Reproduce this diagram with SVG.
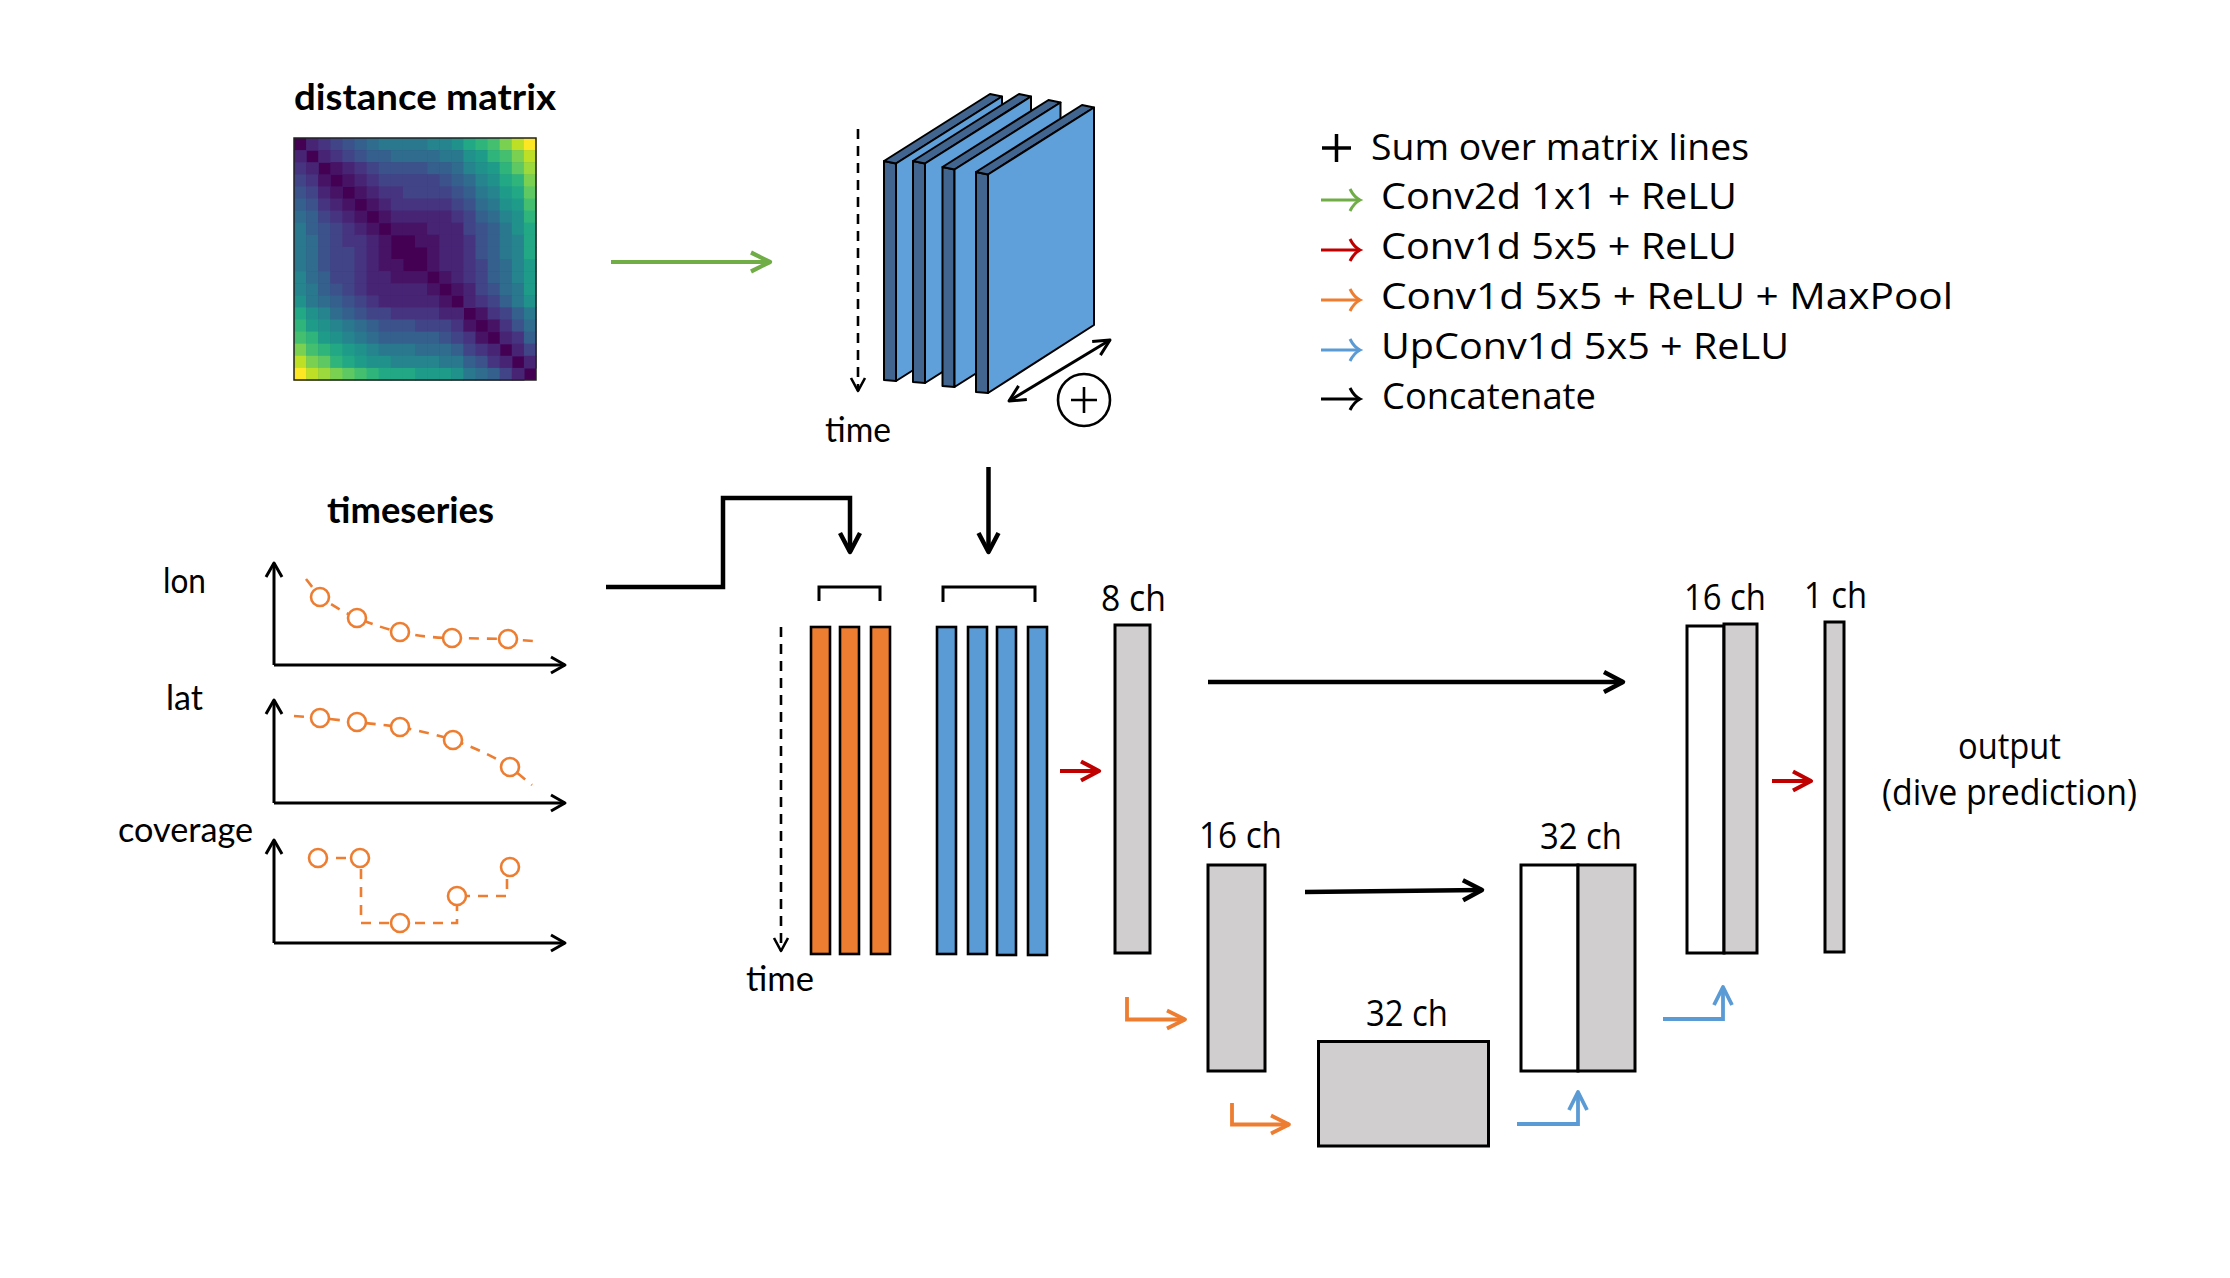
<svg xmlns="http://www.w3.org/2000/svg" xmlns:xlink="http://www.w3.org/1999/xlink" width="2230" height="1278" viewBox="0 0 2230 1278">
<style>
.t{font-family:"Open Sans","DejaVu Sans",sans-serif;font-size:36.5px;fill:#000}
.s{font-family:"Open Sans","DejaVu Sans",sans-serif;font-size:37px;fill:#000}
.l{font-family:Lato,"Liberation Sans",sans-serif;font-size:34px;fill:#000}
.b{font-family:Lato,"Liberation Sans",sans-serif;font-weight:bold;font-size:36px;fill:#000}
.g{fill:#d0cece;stroke:#000;stroke-width:3}
.w{fill:#fff;stroke:#000;stroke-width:3}
.ob{fill:#ed7d31;stroke:#000;stroke-width:2.6}
.bb{fill:#5b9bd5;stroke:#000;stroke-width:2.6}
.dk{fill:#41658e;stroke:#000;stroke-width:2;stroke-linejoin:round}
.lt{fill:#5fa0da;stroke:#000;stroke-width:2;stroke-linejoin:round}
.ln{fill:none;stroke-linecap:butt;stroke-linejoin:miter}
.k{stroke:#000}
.ax{fill:none;stroke:#000;stroke-width:3}
.ds{fill:none;stroke:#ed7d31;stroke-width:2.6;stroke-dasharray:10 8}
.pt{fill:#fff;stroke:#ed7d31;stroke-width:2.6}
.v1{fill:#471365}.v2{fill:#482475}.v3{fill:#463480}.v4{fill:#414487}.v5{fill:#3b528b}
.v6{fill:#355f8d}.v7{fill:#2f6c8e}.v8{fill:#2a788e}.v9{fill:#25848e}.v10{fill:#21918c}
.v11{fill:#1e9c89}.v12{fill:#22a884}.v13{fill:#2fb47c}.v14{fill:#44bf70}.v15{fill:#5ec962}
.v16{fill:#7ad151}.v17{fill:#9bd93c}.v18{fill:#bddf26}.v19{fill:#dfe318}.v20{fill:#fde725}
</style>
<defs>
<marker id="mBk" markerUnits="userSpaceOnUse" markerWidth="24" markerHeight="24" refX="19" refY="10" orient="auto" overflow="visible"><path d="M0,0 L19,10 L0,20" fill="none" stroke="#000" stroke-width="4.5" stroke-linejoin="round"/></marker>
<marker id="mGr" markerUnits="userSpaceOnUse" markerWidth="24" markerHeight="24" refX="19" refY="10" orient="auto" overflow="visible"><path d="M0,0.5 L19,10 L0,19.5" fill="none" stroke="#70ad47" stroke-width="4.2" stroke-linejoin="round"/></marker>
<marker id="mRd" markerUnits="userSpaceOnUse" markerWidth="24" markerHeight="24" refX="18" refY="10" orient="auto" overflow="visible"><path d="M0,0.5 L18,10 L0,19.5" fill="none" stroke="#c00000" stroke-width="4.2" stroke-linejoin="round"/></marker>
<marker id="mOr" markerUnits="userSpaceOnUse" markerWidth="24" markerHeight="24" refX="18" refY="10" orient="auto" overflow="visible"><path d="M0,1 L18,10 L0,19" fill="none" stroke="#ed7d31" stroke-width="3.8" stroke-linejoin="round"/></marker>
<marker id="mBl" markerUnits="userSpaceOnUse" markerWidth="24" markerHeight="24" refX="18" refY="10" orient="auto" overflow="visible"><path d="M0,1 L18,10 L0,19" fill="none" stroke="#5b9bd5" stroke-width="3.8" stroke-linejoin="round"/></marker>
<marker id="mAx" markerUnits="userSpaceOnUse" markerWidth="20" markerHeight="20" refX="14" refY="10" orient="auto" overflow="visible"><path d="M0,2 L14,10 L0,18" fill="none" stroke="#000" stroke-width="3" stroke-linejoin="round"/></marker>
<marker id="mDs" markerUnits="userSpaceOnUse" markerWidth="20" markerHeight="20" refX="13" refY="8" orient="auto" overflow="visible"><path d="M0,1 L13,8 L0,15" fill="none" stroke="#000" stroke-width="2.6" stroke-linejoin="round"/></marker>
<marker id="mDa" markerUnits="userSpaceOnUse" markerWidth="20" markerHeight="20" refX="16" refY="9" orient="auto-start-reverse" overflow="visible"><path d="M0,1 L16,9 L0,17" fill="none" stroke="#000" stroke-width="3" stroke-linejoin="round"/></marker>
<marker id="mLk" markerUnits="userSpaceOnUse" markerWidth="20" markerHeight="26" refX="10" refY="11" orient="auto" overflow="visible"><path d="M0,0 Q4,8 10,11 Q4,14 0,22" fill="none" stroke="#000" stroke-width="3"/></marker>
<marker id="mLg" markerUnits="userSpaceOnUse" markerWidth="20" markerHeight="26" refX="10" refY="11" orient="auto" overflow="visible"><path d="M0,0 Q4,8 10,11 Q4,14 0,22" fill="none" stroke="#70ad47" stroke-width="3"/></marker>
<marker id="mLr" markerUnits="userSpaceOnUse" markerWidth="20" markerHeight="26" refX="10" refY="11" orient="auto" overflow="visible"><path d="M0,0 Q4,8 10,11 Q4,14 0,22" fill="none" stroke="#c00000" stroke-width="3"/></marker>
<marker id="mLo" markerUnits="userSpaceOnUse" markerWidth="20" markerHeight="26" refX="10" refY="11" orient="auto" overflow="visible"><path d="M0,0 Q4,8 10,11 Q4,14 0,22" fill="none" stroke="#ed7d31" stroke-width="3"/></marker>
<marker id="mLb" markerUnits="userSpaceOnUse" markerWidth="20" markerHeight="26" refX="10" refY="11" orient="auto" overflow="visible"><path d="M0,0 Q4,8 10,11 Q4,14 0,22" fill="none" stroke="#5b9bd5" stroke-width="3"/></marker>
</defs>
<rect width="2230" height="1278" fill="#fff"/>

<g id="distance-matrix">
<text class="b" x="294" y="110" textLength="262" lengthAdjust="spacingAndGlyphs">distance matrix</text>
<g transform="translate(294,138) scale(12.1)">
<rect width="20" height="20" fill="#440154"/>
<g id="mxU">
<rect x="1" y="0" width="1.05" height="1.05" class="v2"/><rect x="2" y="0" width="1.05" height="1.05" class="v3"/><rect x="3" y="0" width="1.05" height="1.05" class="v4"/><rect x="4" y="0" width="1.05" height="1.05" class="v5"/><rect x="5" y="0" width="1.05" height="1.05" class="v6"/><rect x="6" y="0" width="1.05" height="1.05" class="v7"/><rect x="7" y="0" width="1.05" height="1.05" class="v8"/><rect x="8" y="0" width="1.05" height="1.05" class="v8"/><rect x="9" y="0" width="1.05" height="1.05" class="v8"/><rect x="10" y="0" width="1.05" height="1.05" class="v8"/><rect x="11" y="0" width="1.05" height="1.05" class="v9"/><rect x="12" y="0" width="1.05" height="1.05" class="v9"/><rect x="13" y="0" width="1.05" height="1.05" class="v10"/><rect x="14" y="0" width="1.05" height="1.05" class="v12"/><rect x="15" y="0" width="1.05" height="1.05" class="v13"/><rect x="16" y="0" width="1.05" height="1.05" class="v14"/><rect x="17" y="0" width="1.05" height="1.05" class="v16"/><rect x="18" y="0" width="1.05" height="1.05" class="v18"/><rect x="19" y="0" width="1.05" height="1.05" class="v20"/>
<rect x="2" y="1" width="1.05" height="1.05" class="v2"/><rect x="3" y="1" width="1.05" height="1.05" class="v3"/><rect x="4" y="1" width="1.05" height="1.05" class="v4"/><rect x="5" y="1" width="1.05" height="1.05" class="v5"/><rect x="6" y="1" width="1.05" height="1.05" class="v6"/><rect x="7" y="1" width="1.05" height="1.05" class="v6"/><rect x="8" y="1" width="1.05" height="1.05" class="v7"/><rect x="9" y="1" width="1.05" height="1.05" class="v7"/><rect x="10" y="1" width="1.05" height="1.05" class="v7"/><rect x="11" y="1" width="1.05" height="1.05" class="v7"/><rect x="12" y="1" width="1.05" height="1.05" class="v8"/><rect x="13" y="1" width="1.05" height="1.05" class="v8"/><rect x="14" y="1" width="1.05" height="1.05" class="v10"/><rect x="15" y="1" width="1.05" height="1.05" class="v11"/><rect x="16" y="1" width="1.05" height="1.05" class="v13"/><rect x="17" y="1" width="1.05" height="1.05" class="v14"/><rect x="18" y="1" width="1.05" height="1.05" class="v16"/><rect x="19" y="1" width="1.05" height="1.05" class="v18"/>
<rect x="3" y="2" width="1.05" height="1.05" class="v1"/><rect x="4" y="2" width="1.05" height="1.05" class="v2"/><rect x="5" y="2" width="1.05" height="1.05" class="v3"/><rect x="6" y="2" width="1.05" height="1.05" class="v4"/><rect x="7" y="2" width="1.05" height="1.05" class="v5"/><rect x="8" y="2" width="1.05" height="1.05" class="v5"/><rect x="9" y="2" width="1.05" height="1.05" class="v5"/><rect x="10" y="2" width="1.05" height="1.05" class="v5"/><rect x="11" y="2" width="1.05" height="1.05" class="v6"/><rect x="12" y="2" width="1.05" height="1.05" class="v6"/><rect x="13" y="2" width="1.05" height="1.05" class="v7"/><rect x="14" y="2" width="1.05" height="1.05" class="v9"/><rect x="15" y="2" width="1.05" height="1.05" class="v10"/><rect x="16" y="2" width="1.05" height="1.05" class="v11"/><rect x="17" y="2" width="1.05" height="1.05" class="v13"/><rect x="18" y="2" width="1.05" height="1.05" class="v15"/><rect x="19" y="2" width="1.05" height="1.05" class="v17"/>
<rect x="4" y="3" width="1.05" height="1.05" class="v1"/><rect x="5" y="3" width="1.05" height="1.05" class="v2"/><rect x="6" y="3" width="1.05" height="1.05" class="v3"/><rect x="7" y="3" width="1.05" height="1.05" class="v4"/><rect x="8" y="3" width="1.05" height="1.05" class="v4"/><rect x="9" y="3" width="1.05" height="1.05" class="v4"/><rect x="10" y="3" width="1.05" height="1.05" class="v4"/><rect x="11" y="3" width="1.05" height="1.05" class="v4"/><rect x="12" y="3" width="1.05" height="1.05" class="v5"/><rect x="13" y="3" width="1.05" height="1.05" class="v6"/><rect x="14" y="3" width="1.05" height="1.05" class="v7"/><rect x="15" y="3" width="1.05" height="1.05" class="v9"/><rect x="16" y="3" width="1.05" height="1.05" class="v10"/><rect x="17" y="3" width="1.05" height="1.05" class="v12"/><rect x="18" y="3" width="1.05" height="1.05" class="v13"/><rect x="19" y="3" width="1.05" height="1.05" class="v16"/>
<rect x="5" y="4" width="1.05" height="1.05" class="v1"/><rect x="6" y="4" width="1.05" height="1.05" class="v2"/><rect x="7" y="4" width="1.05" height="1.05" class="v3"/><rect x="8" y="4" width="1.05" height="1.05" class="v3"/><rect x="9" y="4" width="1.05" height="1.05" class="v4"/><rect x="10" y="4" width="1.05" height="1.05" class="v4"/><rect x="11" y="4" width="1.05" height="1.05" class="v4"/><rect x="12" y="4" width="1.05" height="1.05" class="v4"/><rect x="13" y="4" width="1.05" height="1.05" class="v5"/><rect x="14" y="4" width="1.05" height="1.05" class="v6"/><rect x="15" y="4" width="1.05" height="1.05" class="v8"/><rect x="16" y="4" width="1.05" height="1.05" class="v9"/><rect x="17" y="4" width="1.05" height="1.05" class="v11"/><rect x="18" y="4" width="1.05" height="1.05" class="v12"/><rect x="19" y="4" width="1.05" height="1.05" class="v15"/>
<rect x="6" y="5" width="1.05" height="1.05" class="v1"/><rect x="7" y="5" width="1.05" height="1.05" class="v2"/><rect x="8" y="5" width="1.05" height="1.05" class="v3"/><rect x="9" y="5" width="1.05" height="1.05" class="v3"/><rect x="10" y="5" width="1.05" height="1.05" class="v3"/><rect x="11" y="5" width="1.05" height="1.05" class="v3"/><rect x="12" y="5" width="1.05" height="1.05" class="v3"/><rect x="13" y="5" width="1.05" height="1.05" class="v4"/><rect x="14" y="5" width="1.05" height="1.05" class="v5"/><rect x="15" y="5" width="1.05" height="1.05" class="v7"/><rect x="16" y="5" width="1.05" height="1.05" class="v8"/><rect x="17" y="5" width="1.05" height="1.05" class="v10"/><rect x="18" y="5" width="1.05" height="1.05" class="v11"/><rect x="19" y="5" width="1.05" height="1.05" class="v14"/>
<rect x="7" y="6" width="1.05" height="1.05" class="v1"/><rect x="8" y="6" width="1.05" height="1.05" class="v2"/><rect x="9" y="6" width="1.05" height="1.05" class="v2"/><rect x="10" y="6" width="1.05" height="1.05" class="v2"/><rect x="11" y="6" width="1.05" height="1.05" class="v2"/><rect x="12" y="6" width="1.05" height="1.05" class="v2"/><rect x="13" y="6" width="1.05" height="1.05" class="v3"/><rect x="14" y="6" width="1.05" height="1.05" class="v4"/><rect x="15" y="6" width="1.05" height="1.05" class="v6"/><rect x="16" y="6" width="1.05" height="1.05" class="v7"/><rect x="17" y="6" width="1.05" height="1.05" class="v9"/><rect x="18" y="6" width="1.05" height="1.05" class="v10"/><rect x="19" y="6" width="1.05" height="1.05" class="v13"/>
<rect x="8" y="7" width="1.05" height="1.05" class="v1"/><rect x="9" y="7" width="1.05" height="1.05" class="v1"/><rect x="10" y="7" width="1.05" height="1.05" class="v1"/><rect x="11" y="7" width="1.05" height="1.05" class="v2"/><rect x="12" y="7" width="1.05" height="1.05" class="v2"/><rect x="13" y="7" width="1.05" height="1.05" class="v2"/><rect x="14" y="7" width="1.05" height="1.05" class="v4"/><rect x="15" y="7" width="1.05" height="1.05" class="v5"/><rect x="16" y="7" width="1.05" height="1.05" class="v6"/><rect x="17" y="7" width="1.05" height="1.05" class="v8"/><rect x="18" y="7" width="1.05" height="1.05" class="v10"/><rect x="19" y="7" width="1.05" height="1.05" class="v12"/>
<rect x="10" y="8" width="1.05" height="1.05" class="v1"/><rect x="11" y="8" width="1.05" height="1.05" class="v1"/><rect x="12" y="8" width="1.05" height="1.05" class="v2"/><rect x="13" y="8" width="1.05" height="1.05" class="v2"/><rect x="14" y="8" width="1.05" height="1.05" class="v3"/><rect x="15" y="8" width="1.05" height="1.05" class="v5"/><rect x="16" y="8" width="1.05" height="1.05" class="v6"/><rect x="17" y="8" width="1.05" height="1.05" class="v8"/><rect x="18" y="8" width="1.05" height="1.05" class="v9"/><rect x="19" y="8" width="1.05" height="1.05" class="v12"/>
<rect x="11" y="9" width="1.05" height="1.05" class="v1"/><rect x="12" y="9" width="1.05" height="1.05" class="v2"/><rect x="13" y="9" width="1.05" height="1.05" class="v2"/><rect x="14" y="9" width="1.05" height="1.05" class="v3"/><rect x="15" y="9" width="1.05" height="1.05" class="v5"/><rect x="16" y="9" width="1.05" height="1.05" class="v6"/><rect x="17" y="9" width="1.05" height="1.05" class="v8"/><rect x="18" y="9" width="1.05" height="1.05" class="v9"/><rect x="19" y="9" width="1.05" height="1.05" class="v12"/>
<rect x="11" y="10" width="1.05" height="1.05" class="v1"/><rect x="12" y="10" width="1.05" height="1.05" class="v2"/><rect x="13" y="10" width="1.05" height="1.05" class="v2"/><rect x="14" y="10" width="1.05" height="1.05" class="v3"/><rect x="15" y="10" width="1.05" height="1.05" class="v4"/><rect x="16" y="10" width="1.05" height="1.05" class="v6"/><rect x="17" y="10" width="1.05" height="1.05" class="v7"/><rect x="18" y="10" width="1.05" height="1.05" class="v9"/><rect x="19" y="10" width="1.05" height="1.05" class="v11"/>
<rect x="12" y="11" width="1.05" height="1.05" class="v1"/><rect x="13" y="11" width="1.05" height="1.05" class="v2"/><rect x="14" y="11" width="1.05" height="1.05" class="v3"/><rect x="15" y="11" width="1.05" height="1.05" class="v4"/><rect x="16" y="11" width="1.05" height="1.05" class="v6"/><rect x="17" y="11" width="1.05" height="1.05" class="v7"/><rect x="18" y="11" width="1.05" height="1.05" class="v9"/><rect x="19" y="11" width="1.05" height="1.05" class="v11"/>
<rect x="13" y="12" width="1.05" height="1.05" class="v1"/><rect x="14" y="12" width="1.05" height="1.05" class="v2"/><rect x="15" y="12" width="1.05" height="1.05" class="v4"/><rect x="16" y="12" width="1.05" height="1.05" class="v5"/><rect x="17" y="12" width="1.05" height="1.05" class="v7"/><rect x="18" y="12" width="1.05" height="1.05" class="v8"/><rect x="19" y="12" width="1.05" height="1.05" class="v11"/>
<rect x="14" y="13" width="1.05" height="1.05" class="v2"/><rect x="15" y="13" width="1.05" height="1.05" class="v3"/><rect x="16" y="13" width="1.05" height="1.05" class="v4"/><rect x="17" y="13" width="1.05" height="1.05" class="v6"/><rect x="18" y="13" width="1.05" height="1.05" class="v8"/><rect x="19" y="13" width="1.05" height="1.05" class="v10"/>
<rect x="15" y="14" width="1.05" height="1.05" class="v1"/><rect x="16" y="14" width="1.05" height="1.05" class="v3"/><rect x="17" y="14" width="1.05" height="1.05" class="v4"/><rect x="18" y="14" width="1.05" height="1.05" class="v6"/><rect x="19" y="14" width="1.05" height="1.05" class="v8"/>
<rect x="16" y="15" width="1.05" height="1.05" class="v1"/><rect x="17" y="15" width="1.05" height="1.05" class="v3"/><rect x="18" y="15" width="1.05" height="1.05" class="v5"/><rect x="19" y="15" width="1.05" height="1.05" class="v7"/>
<rect x="17" y="16" width="1.05" height="1.05" class="v2"/><rect x="18" y="16" width="1.05" height="1.05" class="v3"/><rect x="19" y="16" width="1.05" height="1.05" class="v6"/>
<rect x="18" y="17" width="1.05" height="1.05" class="v2"/><rect x="19" y="17" width="1.05" height="1.05" class="v4"/>
<rect x="19" y="18" width="1.05" height="1.05" class="v2"/>
</g>
<use href="#mxU" xlink:href="#mxU" transform="matrix(0 1 1 0 0 0)"/>
</g>
<rect x="294" y="138" width="242" height="242" fill="none" stroke="#222" stroke-width="1.5"/>
</g>

<g id="feature-maps">
<polygon class="dk" points="884,161 896,163.5 896,381 884,380"/>
<polygon class="dk" points="884,161 990,94 1002,96.5 896,163.5"/>
<polygon class="lt" points="896,163.5 1002,96.5 1002,314 896,381"/>
<polygon class="dk" points="913,161 925,163.5 925,383 913,382"/>
<polygon class="dk" points="913,161 1019,94 1031,96.5 925,163.5"/>
<polygon class="lt" points="925,163.5 1031,96.5 1031,316 925,383"/>
<polygon class="dk" points="942.5,167 954.5,169.5 954.5,387 942.5,386"/>
<polygon class="dk" points="942.5,167 1048.5,100 1060.5,102.5 954.5,169.5"/>
<polygon class="lt" points="954.5,169.5 1060.5,102.5 1060.5,320 954.5,387"/>
<polygon class="dk" points="976,172 988,174.5 988,393 976,392"/>
<polygon class="dk" points="976,172 1082,105 1094,107.5 988,174.5"/>
<polygon class="lt" points="988,174.5 1094,107.5 1094,325 988,393"/>
<line x1="858" y1="129" x2="858" y2="391" stroke="#000" stroke-width="2.6" stroke-dasharray="10 7" marker-end="url(#mDs)"/>
<text class="l" x="825" y="442" textLength="66" lengthAdjust="spacingAndGlyphs">time</text>
<line x1="1009" y1="401" x2="1110" y2="340" stroke="#000" stroke-width="3" marker-start="url(#mDa)" marker-end="url(#mDa)"/>
<circle cx="1084" cy="400" r="26" fill="#fff" stroke="#000" stroke-width="2.6"/>
<path d="M1071,400 H1097 M1084,387 V413" stroke="#000" stroke-width="2.6" fill="none"/>
</g>

<g id="legend">
<path d="M1322,148 H1351 M1336.5,134 V162" stroke="#000" stroke-width="3.5" fill="none"/>
<text class="t" x="1371" y="160" textLength="378" lengthAdjust="spacingAndGlyphs">Sum over matrix lines</text>
<line x1="1321" y1="200" x2="1360" y2="200" stroke="#70ad47" stroke-width="3" marker-end="url(#mLg)"/>
<text class="t" x="1381" y="209" textLength="356" lengthAdjust="spacingAndGlyphs">Conv2d 1x1 + ReLU</text>
<line x1="1321" y1="250" x2="1360" y2="250" stroke="#c00000" stroke-width="3" marker-end="url(#mLr)"/>
<text class="t" x="1381" y="259" textLength="356" lengthAdjust="spacingAndGlyphs">Conv1d 5x5 + ReLU</text>
<line x1="1321" y1="300" x2="1360" y2="300" stroke="#ed7d31" stroke-width="3" marker-end="url(#mLo)"/>
<text class="t" x="1381" y="309" textLength="572" lengthAdjust="spacingAndGlyphs">Conv1d 5x5 + ReLU + MaxPool</text>
<line x1="1321" y1="350" x2="1360" y2="350" stroke="#5b9bd5" stroke-width="3" marker-end="url(#mLb)"/>
<text class="t" x="1381" y="359" textLength="408" lengthAdjust="spacingAndGlyphs">UpConv1d 5x5 + ReLU</text>
<line x1="1321" y1="399" x2="1360" y2="399" stroke="#000" stroke-width="3" marker-end="url(#mLk)"/>
<text class="t" x="1382" y="409" textLength="214" lengthAdjust="spacingAndGlyphs">Concatenate</text>
</g>

<g id="timeseries">
<text class="b" x="327" y="523" textLength="167" lengthAdjust="spacingAndGlyphs">timeseries</text>
<text class="l" x="163" y="593" textLength="43" lengthAdjust="spacingAndGlyphs">lon</text>
<text class="l" x="166" y="710" textLength="37" lengthAdjust="spacingAndGlyphs">lat</text>
<text class="l" x="118" y="842" textLength="135" lengthAdjust="spacingAndGlyphs">coverage</text>
<path class="ax" d="M274,665 V563" marker-end="url(#mAx)"/>
<path class="ax" d="M274,665 H565" marker-end="url(#mAx)"/>
<path class="ax" d="M274,803 V700" marker-end="url(#mAx)"/>
<path class="ax" d="M274,803 H565" marker-end="url(#mAx)"/>
<path class="ax" d="M274,943 V840" marker-end="url(#mAx)"/>
<path class="ax" d="M274,943 H565" marker-end="url(#mAx)"/>
<path class="ds" d="M306,579 L320,597 C335,607 345,613 357,618 C372,624 385,629 400,632 C418,636 435,638 452,638 L508,639 L533,641"/>
<path class="ds" d="M294,716 L320,718 L357,722 C372,724 386,725 400,727 C420,731 437,735 453,740 C475,748 493,756 510,767 L532,785"/>
<path class="ds" d="M318,858 H361 V923 H457 V896 H507 V868"/>
<circle class="pt" cx="320" cy="597" r="9"/><circle class="pt" cx="357" cy="618" r="9"/><circle class="pt" cx="400" cy="632" r="9"/><circle class="pt" cx="452" cy="638" r="9"/><circle class="pt" cx="508" cy="639" r="9"/>
<circle class="pt" cx="320" cy="718" r="9"/><circle class="pt" cx="357" cy="722" r="9"/><circle class="pt" cx="400" cy="727" r="9"/><circle class="pt" cx="453" cy="740" r="9"/><circle class="pt" cx="510" cy="767" r="9"/>
<circle class="pt" cx="318" cy="858" r="9"/><circle class="pt" cx="360" cy="858" r="9"/><circle class="pt" cx="400" cy="923" r="9"/><circle class="pt" cx="457" cy="896" r="9"/><circle class="pt" cx="510" cy="867" r="9"/>
</g>

<g id="ts-channels">
<path d="M819,601 V587 H880 V601" fill="none" stroke="#000" stroke-width="3"/>
<rect class="ob" x="811" y="627" width="19" height="327"/>
<rect class="ob" x="840" y="627" width="19" height="327"/>
<rect class="ob" x="871" y="627" width="19" height="327"/>
<line x1="781" y1="627" x2="781" y2="951" stroke="#000" stroke-width="2.6" stroke-dasharray="10 7" marker-end="url(#mDs)"/>
<text class="l" x="746" y="991" textLength="68" lengthAdjust="spacingAndGlyphs">time</text>
</g>

<g id="dm-channels">
<path d="M943,602 V587 H1035 V602" fill="none" stroke="#000" stroke-width="3"/>
<rect class="bb" x="937" y="627" width="19" height="327"/>
<rect class="bb" x="968" y="627" width="19" height="327"/>
<rect class="bb" x="997" y="627" width="19" height="328"/>
<rect class="bb" x="1028" y="627" width="19" height="328"/>
</g>

<g id="enc8">
<text class="s" x="1101" y="611" textLength="65" lengthAdjust="spacingAndGlyphs">8 ch</text>
<rect class="g" x="1115" y="625" width="35" height="328"/>
</g>
<g id="enc16">
<text class="s" x="1199" y="848" textLength="83" lengthAdjust="spacingAndGlyphs">16 ch</text>
<rect class="g" x="1208" y="865" width="57" height="206"/>
</g>
<g id="bottleneck32">
<text class="s" x="1366" y="1026" textLength="82" lengthAdjust="spacingAndGlyphs">32 ch</text>
<rect class="g" x="1318.5" y="1041.5" width="170" height="104.5"/>
</g>
<g id="dec32">
<text class="s" x="1540" y="849" textLength="82" lengthAdjust="spacingAndGlyphs">32 ch</text>
<rect class="w" x="1521" y="865" width="57" height="206"/>
<rect class="g" x="1578" y="865" width="57" height="206"/>
</g>
<g id="dec16">
<text class="s" x="1684" y="610" textLength="82" lengthAdjust="spacingAndGlyphs">16 ch</text>
<rect class="w" x="1687" y="626" width="37" height="327"/>
<rect class="g" x="1724" y="624" width="33" height="329"/>
</g>
<g id="out1">
<text class="s" x="1804" y="608" textLength="63" lengthAdjust="spacingAndGlyphs">1 ch</text>
<rect class="g" x="1825" y="622" width="19" height="330"/>
</g>
<g id="output-label">
<text class="s" x="1958" y="759" textLength="103" lengthAdjust="spacingAndGlyphs">output</text>
<text class="s" x="1882" y="805" textLength="255" lengthAdjust="spacingAndGlyphs">(dive prediction)</text>
</g>

<g id="connectors">
<line x1="611" y1="262" x2="770" y2="262" stroke="#70ad47" stroke-width="4.2" marker-end="url(#mGr)"/>
<path class="ln k" d="M606,587 H723 V498 H850 V552" stroke-width="4.5" fill="none" marker-end="url(#mBk)"/>
<line x1="988.5" y1="467" x2="988.5" y2="552" stroke="#000" stroke-width="4.5" marker-end="url(#mBk)"/>
<line x1="1060" y1="771" x2="1099" y2="771" stroke="#c00000" stroke-width="4.2" marker-end="url(#mRd)"/>
<path d="M1127,997 V1019.5 H1185" fill="none" stroke="#ed7d31" stroke-width="3.8" marker-end="url(#mOr)"/>
<path d="M1232,1103 V1124.5 H1289" fill="none" stroke="#ed7d31" stroke-width="3.8" marker-end="url(#mOr)"/>
<path d="M1517,1124 H1578 V1092" fill="none" stroke="#5b9bd5" stroke-width="3.8" marker-end="url(#mBl)"/>
<path d="M1663,1019 H1723 V987" fill="none" stroke="#5b9bd5" stroke-width="3.8" marker-end="url(#mBl)"/>
<line x1="1305" y1="892" x2="1482" y2="890" stroke="#000" stroke-width="4.5" marker-end="url(#mBk)"/>
<line x1="1208" y1="682" x2="1623" y2="682" stroke="#000" stroke-width="4.5" marker-end="url(#mBk)"/>
<line x1="1772" y1="781" x2="1811" y2="781" stroke="#c00000" stroke-width="4.2" marker-end="url(#mRd)"/>
</g>
</svg>
